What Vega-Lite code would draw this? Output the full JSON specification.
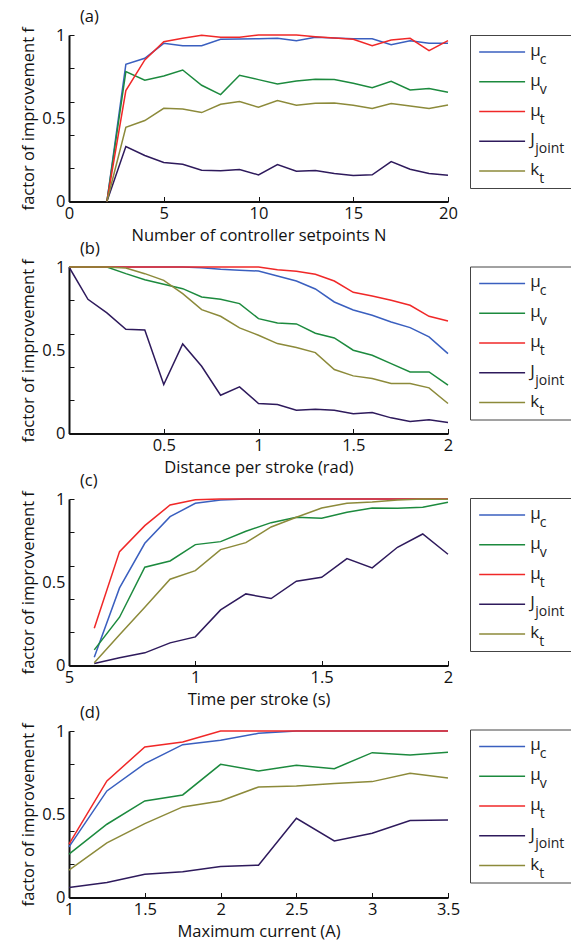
{
"$schema":"https://vega.github.io/schema/vega-lite/v6.json",
"background":"white",
"padding":{"left":20,"top":9,"right":0,"bottom":0},
"config":{"view":{"stroke":null},"font":"Open Sans",
"axis":{"grid":false,"domainColor":"#111","domainWidth":2,"tickColor":"#111","tickSize":-5,"tickWidth":1,"labelFont":"Open Sans","labelFontSize":16.5,"labelColor":"#111","titleFont":"Open Sans","titleFontSize":16.5,"titleFontWeight":"normal","titleColor":"#111","labelPadding":9,"labelFlush":false,"titlePadding":5},
"title":{"font":"Open Sans","fontSize":16.5,"fontWeight":"normal","color":"#111"}},
"datasets":{
"a":[
{"s":"mc","x":2,"f":0},{"s":"mc","x":3,"f":0.824},{"s":"mc","x":4,"f":0.86},{"s":"mc","x":5,"f":0.95},{"s":"mc","x":6,"f":0.936},{"s":"mc","x":7,"f":0.936},{"s":"mc","x":8,"f":0.974},{"s":"mc","x":9,"f":0.976},{"s":"mc","x":10,"f":0.978},{"s":"mc","x":11,"f":0.98},{"s":"mc","x":12,"f":0.966},{"s":"mc","x":13,"f":0.986},{"s":"mc","x":14,"f":0.982},{"s":"mc","x":15,"f":0.978},{"s":"mc","x":16,"f":0.978},{"s":"mc","x":17,"f":0.942},{"s":"mc","x":18,"f":0.966},{"s":"mc","x":19,"f":0.95},{"s":"mc","x":20,"f":0.95},
{"s":"mv","x":2,"f":0},{"s":"mv","x":3,"f":0.78},{"s":"mv","x":4,"f":0.728},{"s":"mv","x":5,"f":0.754},{"s":"mv","x":6,"f":0.79},{"s":"mv","x":7,"f":0.698},{"s":"mv","x":8,"f":0.642},{"s":"mv","x":9,"f":0.758},{"s":"mv","x":10,"f":0.732},{"s":"mv","x":11,"f":0.706},{"s":"mv","x":12,"f":0.724},{"s":"mv","x":13,"f":0.734},{"s":"mv","x":14,"f":0.732},{"s":"mv","x":15,"f":0.71},{"s":"mv","x":16,"f":0.684},{"s":"mv","x":17,"f":0.722},{"s":"mv","x":18,"f":0.67},{"s":"mv","x":19,"f":0.678},{"s":"mv","x":20,"f":0.656},
{"s":"mt","x":2,"f":0},{"s":"mt","x":3,"f":0.666},{"s":"mt","x":4,"f":0.85},{"s":"mt","x":5,"f":0.96},{"s":"mt","x":6,"f":0.98},{"s":"mt","x":7,"f":0.998},{"s":"mt","x":8,"f":0.986},{"s":"mt","x":9,"f":0.986},{"s":"mt","x":10,"f":1.0},{"s":"mt","x":11,"f":1.0},{"s":"mt","x":12,"f":1.0},{"s":"mt","x":13,"f":0.99},{"s":"mt","x":14,"f":0.982},{"s":"mt","x":15,"f":0.974},{"s":"mt","x":16,"f":0.936},{"s":"mt","x":17,"f":0.97},{"s":"mt","x":18,"f":0.98},{"s":"mt","x":19,"f":0.906},{"s":"mt","x":20,"f":0.966},
{"s":"J","x":2,"f":0},{"s":"J","x":3,"f":0.33},{"s":"J","x":4,"f":0.276},{"s":"J","x":5,"f":0.234},{"s":"J","x":6,"f":0.224},{"s":"J","x":7,"f":0.188},{"s":"J","x":8,"f":0.184},{"s":"J","x":9,"f":0.192},{"s":"J","x":10,"f":0.16},{"s":"J","x":11,"f":0.222},{"s":"J","x":12,"f":0.182},{"s":"J","x":13,"f":0.186},{"s":"J","x":14,"f":0.168},{"s":"J","x":15,"f":0.156},{"s":"J","x":16,"f":0.16},{"s":"J","x":17,"f":0.24},{"s":"J","x":18,"f":0.194},{"s":"J","x":19,"f":0.168},{"s":"J","x":20,"f":0.158},
{"s":"k","x":2,"f":0},{"s":"k","x":3,"f":0.446},{"s":"k","x":4,"f":0.486},{"s":"k","x":5,"f":0.56},{"s":"k","x":6,"f":0.556},{"s":"k","x":7,"f":0.534},{"s":"k","x":8,"f":0.584},{"s":"k","x":9,"f":0.6},{"s":"k","x":10,"f":0.566},{"s":"k","x":11,"f":0.606},{"s":"k","x":12,"f":0.578},{"s":"k","x":13,"f":0.59},{"s":"k","x":14,"f":0.592},{"s":"k","x":15,"f":0.578},{"s":"k","x":16,"f":0.558},{"s":"k","x":17,"f":0.588},{"s":"k","x":18,"f":0.574},{"s":"k","x":19,"f":0.558},{"s":"k","x":20,"f":0.58}
],
"b":[
{"s":"mc","x":0,"f":1},{"s":"mc","x":0.1,"f":1},{"s":"mc","x":0.2,"f":1},{"s":"mc","x":0.3,"f":1},{"s":"mc","x":0.4,"f":1},{"s":"mc","x":0.5,"f":1},{"s":"mc","x":0.6,"f":1},{"s":"mc","x":0.7,"f":0.996},{"s":"mc","x":0.8,"f":0.986},{"s":"mc","x":0.9,"f":0.98},{"s":"mc","x":1.0,"f":0.976},{"s":"mc","x":1.1,"f":0.946},{"s":"mc","x":1.2,"f":0.916},{"s":"mc","x":1.3,"f":0.868},{"s":"mc","x":1.4,"f":0.79},{"s":"mc","x":1.5,"f":0.742},{"s":"mc","x":1.6,"f":0.71},{"s":"mc","x":1.7,"f":0.67},{"s":"mc","x":1.8,"f":0.636},{"s":"mc","x":1.9,"f":0.58},{"s":"mc","x":2.0,"f":0.48},
{"s":"mv","x":0,"f":1},{"s":"mv","x":0.1,"f":1},{"s":"mv","x":0.2,"f":1},{"s":"mv","x":0.3,"f":0.96},{"s":"mv","x":0.4,"f":0.924},{"s":"mv","x":0.5,"f":0.896},{"s":"mv","x":0.6,"f":0.87},{"s":"mv","x":0.7,"f":0.82},{"s":"mv","x":0.8,"f":0.806},{"s":"mv","x":0.9,"f":0.78},{"s":"mv","x":1.0,"f":0.69},{"s":"mv","x":1.1,"f":0.664},{"s":"mv","x":1.2,"f":0.658},{"s":"mv","x":1.3,"f":0.602},{"s":"mv","x":1.4,"f":0.574},{"s":"mv","x":1.5,"f":0.5},{"s":"mv","x":1.6,"f":0.47},{"s":"mv","x":1.7,"f":0.42},{"s":"mv","x":1.8,"f":0.37},{"s":"mv","x":1.9,"f":0.37},{"s":"mv","x":2.0,"f":0.29},
{"s":"mt","x":0,"f":1},{"s":"mt","x":0.1,"f":1},{"s":"mt","x":0.2,"f":1},{"s":"mt","x":0.3,"f":1},{"s":"mt","x":0.4,"f":1},{"s":"mt","x":0.5,"f":1},{"s":"mt","x":0.6,"f":1},{"s":"mt","x":0.7,"f":1},{"s":"mt","x":0.8,"f":1},{"s":"mt","x":0.9,"f":1},{"s":"mt","x":1.0,"f":1},{"s":"mt","x":1.1,"f":0.984},{"s":"mt","x":1.2,"f":0.974},{"s":"mt","x":1.3,"f":0.956},{"s":"mt","x":1.4,"f":0.916},{"s":"mt","x":1.5,"f":0.848},{"s":"mt","x":1.6,"f":0.826},{"s":"mt","x":1.7,"f":0.8},{"s":"mt","x":1.8,"f":0.77},{"s":"mt","x":1.9,"f":0.704},{"s":"mt","x":2.0,"f":0.676},
{"s":"J","x":0,"f":1},{"s":"J","x":0.1,"f":0.806},{"s":"J","x":0.2,"f":0.724},{"s":"J","x":0.3,"f":0.626},{"s":"J","x":0.4,"f":0.622},{"s":"J","x":0.5,"f":0.294},{"s":"J","x":0.6,"f":0.538},{"s":"J","x":0.7,"f":0.404},{"s":"J","x":0.8,"f":0.23},{"s":"J","x":0.9,"f":0.28},{"s":"J","x":1.0,"f":0.18},{"s":"J","x":1.1,"f":0.174},{"s":"J","x":1.2,"f":0.14},{"s":"J","x":1.3,"f":0.146},{"s":"J","x":1.4,"f":0.14},{"s":"J","x":1.5,"f":0.118},{"s":"J","x":1.6,"f":0.126},{"s":"J","x":1.7,"f":0.094},{"s":"J","x":1.8,"f":0.072},{"s":"J","x":1.9,"f":0.082},{"s":"J","x":2.0,"f":0.066},
{"s":"k","x":0,"f":1},{"s":"k","x":0.1,"f":1},{"s":"k","x":0.2,"f":1},{"s":"k","x":0.3,"f":0.994},{"s":"k","x":0.4,"f":0.96},{"s":"k","x":0.5,"f":0.92},{"s":"k","x":0.6,"f":0.84},{"s":"k","x":0.7,"f":0.744},{"s":"k","x":0.8,"f":0.704},{"s":"k","x":0.9,"f":0.634},{"s":"k","x":1.0,"f":0.59},{"s":"k","x":1.1,"f":0.54},{"s":"k","x":1.2,"f":0.516},{"s":"k","x":1.3,"f":0.486},{"s":"k","x":1.4,"f":0.384},{"s":"k","x":1.5,"f":0.346},{"s":"k","x":1.6,"f":0.33},{"s":"k","x":1.7,"f":0.3},{"s":"k","x":1.8,"f":0.3},{"s":"k","x":1.9,"f":0.274},{"s":"k","x":2.0,"f":0.18}
],
"c":[
{"s":"mc","x":0.6,"f":0.05},{"s":"mc","x":0.7,"f":0.466},{"s":"mc","x":0.8,"f":0.734},{"s":"mc","x":0.9,"f":0.894},{"s":"mc","x":1.0,"f":0.974},{"s":"mc","x":1.1,"f":0.994},{"s":"mc","x":1.2,"f":1},{"s":"mc","x":1.3,"f":1},{"s":"mc","x":1.4,"f":1},{"s":"mc","x":1.5,"f":1},{"s":"mc","x":1.6,"f":1},{"s":"mc","x":1.7,"f":1},{"s":"mc","x":1.8,"f":1},{"s":"mc","x":1.9,"f":1},{"s":"mc","x":2.0,"f":1},
{"s":"mv","x":0.6,"f":0.094},{"s":"mv","x":0.7,"f":0.29},{"s":"mv","x":0.8,"f":0.59},{"s":"mv","x":0.9,"f":0.628},{"s":"mv","x":1.0,"f":0.726},{"s":"mv","x":1.1,"f":0.744},{"s":"mv","x":1.2,"f":0.806},{"s":"mv","x":1.3,"f":0.858},{"s":"mv","x":1.4,"f":0.89},{"s":"mv","x":1.5,"f":0.884},{"s":"mv","x":1.6,"f":0.92},{"s":"mv","x":1.7,"f":0.946},{"s":"mv","x":1.8,"f":0.944},{"s":"mv","x":1.9,"f":0.95},{"s":"mv","x":2.0,"f":0.98},
{"s":"mt","x":0.6,"f":0.224},{"s":"mt","x":0.7,"f":0.684},{"s":"mt","x":0.8,"f":0.84},{"s":"mt","x":0.9,"f":0.964},{"s":"mt","x":1.0,"f":0.996},{"s":"mt","x":1.1,"f":1},{"s":"mt","x":1.2,"f":1},{"s":"mt","x":1.3,"f":1},{"s":"mt","x":1.4,"f":1},{"s":"mt","x":1.5,"f":1},{"s":"mt","x":1.6,"f":1},{"s":"mt","x":1.7,"f":1},{"s":"mt","x":1.8,"f":1},{"s":"mt","x":1.9,"f":1},{"s":"mt","x":2.0,"f":1},
{"s":"J","x":0.6,"f":0.012},{"s":"J","x":0.7,"f":0.046},{"s":"J","x":0.8,"f":0.076},{"s":"J","x":0.9,"f":0.136},{"s":"J","x":1.0,"f":0.172},{"s":"J","x":1.1,"f":0.334},{"s":"J","x":1.2,"f":0.43},{"s":"J","x":1.3,"f":0.402},{"s":"J","x":1.4,"f":0.506},{"s":"J","x":1.5,"f":0.53},{"s":"J","x":1.6,"f":0.642},{"s":"J","x":1.7,"f":0.586},{"s":"J","x":1.8,"f":0.71},{"s":"J","x":1.9,"f":0.79},{"s":"J","x":2.0,"f":0.668},
{"s":"k","x":0.6,"f":0.016},{"s":"k","x":0.7,"f":0.184},{"s":"k","x":0.8,"f":0.35},{"s":"k","x":0.9,"f":0.518},{"s":"k","x":1.0,"f":0.57},{"s":"k","x":1.1,"f":0.696},{"s":"k","x":1.2,"f":0.738},{"s":"k","x":1.3,"f":0.832},{"s":"k","x":1.4,"f":0.89},{"s":"k","x":1.5,"f":0.946},{"s":"k","x":1.6,"f":0.974},{"s":"k","x":1.7,"f":0.982},{"s":"k","x":1.8,"f":0.994},{"s":"k","x":1.9,"f":1},{"s":"k","x":2.0,"f":0.998}
],
"d":[
{"s":"mc","x":1,"f":0.304},{"s":"mc","x":1.25,"f":0.64},{"s":"mc","x":1.5,"f":0.804},{"s":"mc","x":1.75,"f":0.918},{"s":"mc","x":2,"f":0.944},{"s":"mc","x":2.25,"f":0.986},{"s":"mc","x":2.5,"f":1},{"s":"mc","x":2.75,"f":1},{"s":"mc","x":3,"f":1},{"s":"mc","x":3.25,"f":1},{"s":"mc","x":3.5,"f":1},
{"s":"mv","x":1,"f":0.26},{"s":"mv","x":1.25,"f":0.44},{"s":"mv","x":1.5,"f":0.58},{"s":"mv","x":1.75,"f":0.616},{"s":"mv","x":2,"f":0.8},{"s":"mv","x":2.25,"f":0.76},{"s":"mv","x":2.5,"f":0.794},{"s":"mv","x":2.75,"f":0.774},{"s":"mv","x":3,"f":0.87},{"s":"mv","x":3.25,"f":0.856},{"s":"mv","x":3.5,"f":0.872},
{"s":"mt","x":1,"f":0.32},{"s":"mt","x":1.25,"f":0.7},{"s":"mt","x":1.5,"f":0.904},{"s":"mt","x":1.75,"f":0.934},{"s":"mt","x":2,"f":1},{"s":"mt","x":2.25,"f":1},{"s":"mt","x":2.5,"f":1},{"s":"mt","x":2.75,"f":1},{"s":"mt","x":3,"f":1},{"s":"mt","x":3.25,"f":1},{"s":"mt","x":3.5,"f":1},
{"s":"J","x":1,"f":0.06},{"s":"J","x":1.25,"f":0.09},{"s":"J","x":1.5,"f":0.14},{"s":"J","x":1.75,"f":0.154},{"s":"J","x":2,"f":0.186},{"s":"J","x":2.25,"f":0.194},{"s":"J","x":2.5,"f":0.476},{"s":"J","x":2.75,"f":0.34},{"s":"J","x":3,"f":0.386},{"s":"J","x":3.25,"f":0.462},{"s":"J","x":3.5,"f":0.466},
{"s":"k","x":1,"f":0.164},{"s":"k","x":1.25,"f":0.328},{"s":"k","x":1.5,"f":0.444},{"s":"k","x":1.75,"f":0.544},{"s":"k","x":2,"f":0.58},{"s":"k","x":2.25,"f":0.664},{"s":"k","x":2.5,"f":0.67},{"s":"k","x":2.75,"f":0.684},{"s":"k","x":3,"f":0.696},{"s":"k","x":3.25,"f":0.746},{"s":"k","x":3.5,"f":0.718}
],
"leg":[
{"s":"mc","main":"μ","sub":"c"},{"s":"mv","main":"μ","sub":"v"},{"s":"mt","main":"μ","sub":"t"},{"s":"J","main":"J","sub":"joint"},{"s":"k","main":"k","sub":"t"}
]},
"hconcat":[
{"vconcat":[
{"width":379,"height":166.5,"data":{"name":"a"},
"title":{"text":"(a)","anchor":"start","frame":"group","dx":11,"offset":1},
"mark":{"type":"line","strokeWidth":1.5},
"encoding":{
"x":{"field":"x","type":"quantitative","scale":{"domain":[0,20],"nice":false,"zero":false},"axis":{"values":[0,5,10,15,20],"title":"Number of controller setpoints N","labelExpr":"format(datum.value,'~g')"}},
"y":{"field":"f","type":"quantitative","scale":{"domain":[0,1],"nice":false},"axis":{"values":[0,0.2,0.4,0.5,0.6,0.8,1],"labelExpr":"(datum.value==0||datum.value==0.5||datum.value==1) ? format(datum.value,'~g') : ''","tickOpacity":{"condition":{"test":"datum.value==0.5","value":0},"value":1},"title":"factor of improvement f"}},
"color":{"field":"s","type":"nominal","scale":{"domain":["mc","mv","mt","J","k"],"range":["#3a5fbf","#1c8a3e","#f02828","#2e1a5c","#8c8a3a"]},"legend":null}}},
{"width":379,"height":166.5,"data":{"name":"b"},
"title":{"text":"(b)","anchor":"start","frame":"group","dx":11,"offset":1},
"mark":{"type":"line","strokeWidth":1.5},
"encoding":{
"x":{"field":"x","type":"quantitative","scale":{"domain":[0,2],"nice":false,"zero":false},"axis":{"values":[0.5,1,1.5,2],"title":"Distance per stroke (rad)","labelExpr":"format(datum.value,'~g')"}},
"y":{"field":"f","type":"quantitative","scale":{"domain":[0,1],"nice":false},"axis":{"values":[0,0.2,0.4,0.5,0.6,0.8,1],"labelExpr":"(datum.value==0||datum.value==0.5||datum.value==1) ? format(datum.value,'~g') : ''","tickOpacity":{"condition":{"test":"datum.value==0.5","value":0},"value":1},"title":"factor of improvement f"}},
"color":{"field":"s","type":"nominal","scale":{"domain":["mc","mv","mt","J","k"],"range":["#3a5fbf","#1c8a3e","#f02828","#2e1a5c","#8c8a3a"]},"legend":null}}},
{"width":379,"height":166.5,"data":{"name":"c"},
"title":{"text":"(c)","anchor":"start","frame":"group","dx":11,"offset":1},
"mark":{"type":"line","strokeWidth":1.5},
"encoding":{
"x":{"field":"x","type":"quantitative","scale":{"domain":[0.5,2],"nice":false,"zero":false},"axis":{"values":[0.5,1,1.5,2],"title":"Time per stroke (s)","labelExpr":"datum.value==0.5 ? '5' : format(datum.value,'~g')"}},
"y":{"field":"f","type":"quantitative","scale":{"domain":[0,1],"nice":false},"axis":{"values":[0,0.2,0.4,0.5,0.6,0.8,1],"labelExpr":"(datum.value==0||datum.value==0.5||datum.value==1) ? format(datum.value,'~g') : ''","tickOpacity":{"condition":{"test":"datum.value==0.5","value":0},"value":1},"title":"factor of improvement f"}},
"color":{"field":"s","type":"nominal","scale":{"domain":["mc","mv","mt","J","k"],"range":["#3a5fbf","#1c8a3e","#f02828","#2e1a5c","#8c8a3a"]},"legend":null}}},
{"width":379,"height":166.5,"data":{"name":"d"},
"title":{"text":"(d)","anchor":"start","frame":"group","dx":11,"offset":1},
"mark":{"type":"line","strokeWidth":1.5},
"encoding":{
"x":{"field":"x","type":"quantitative","scale":{"domain":[1,3.5],"nice":false,"zero":false},"axis":{"values":[1,1.5,2,2.5,3,3.5],"title":"Maximum current (A)","labelExpr":"format(datum.value,'~g')"}},
"y":{"field":"f","type":"quantitative","scale":{"domain":[0,1],"nice":false},"axis":{"values":[0,0.2,0.4,0.5,0.6,0.8,1],"labelExpr":"(datum.value==0||datum.value==0.5||datum.value==1) ? format(datum.value,'~g') : ''","tickOpacity":{"condition":{"test":"datum.value==0.5","value":0},"value":1},"title":"factor of improvement f"}},
"color":{"field":"s","type":"nominal","scale":{"domain":["mc","mv","mt","J","k"],"range":["#3a5fbf","#1c8a3e","#f02828","#2e1a5c","#8c8a3a"]},"legend":null}}}
],"spacing":65,"bounds":"flush"},
{"vconcat":[
{"width":102,"height":153,"view":{"stroke":"#444","strokeWidth":1,"fill":"white"},"data":{"name":"leg"},
"encoding":{"y":{"field":"s","type":"nominal","scale":{"type":"point","domain":["mc","mv","mt","J","k"],"padding":0.57},"axis":null}},
"layer":[
{"mark":{"type":"rule","strokeWidth":1.5},"encoding":{"x":{"datum":0.09,"type":"quantitative","scale":{"domain":[0,1]},"axis":null},"x2":{"datum":0.54},"color":{"field":"s","type":"nominal","scale":{"domain":["mc","mv","mt","J","k"],"range":["#3a5fbf","#1c8a3e","#f02828","#2e1a5c","#8c8a3a"]},"legend":null}}},
{"mark":{"type":"text","align":"left","baseline":"alphabetic","dy":4,"fontSize":17,"color":"#222"},"encoding":{"x":{"datum":0.59,"type":"quantitative"},"text":{"field":"main"}}},
{"transform":[{"filter":"datum.main=='μ'"}],"mark":{"type":"text","align":"left","baseline":"alphabetic","dx":9.5,"dy":12,"fontSize":14,"color":"#222"},"encoding":{"x":{"datum":0.59,"type":"quantitative"},"text":{"field":"sub"}}},
{"transform":[{"filter":"datum.main=='J'"}],"mark":{"type":"text","align":"left","baseline":"alphabetic","dx":5,"dy":12,"fontSize":14,"color":"#222"},"encoding":{"x":{"datum":0.59,"type":"quantitative"},"text":{"field":"sub"}}},
{"transform":[{"filter":"datum.main=='k'"}],"mark":{"type":"text","align":"left","baseline":"alphabetic","dx":9,"dy":12,"fontSize":14,"color":"#222"},"encoding":{"x":{"datum":0.59,"type":"quantitative"},"text":{"field":"sub"}}}
]},
{"width":102,"height":153,"view":{"stroke":"#444","strokeWidth":1,"fill":"white"},"data":{"name":"leg"},
"encoding":{"y":{"field":"s","type":"nominal","scale":{"type":"point","domain":["mc","mv","mt","J","k"],"padding":0.57},"axis":null}},
"layer":[
{"mark":{"type":"rule","strokeWidth":1.5},"encoding":{"x":{"datum":0.09,"type":"quantitative","scale":{"domain":[0,1]},"axis":null},"x2":{"datum":0.54},"color":{"field":"s","type":"nominal","scale":{"domain":["mc","mv","mt","J","k"],"range":["#3a5fbf","#1c8a3e","#f02828","#2e1a5c","#8c8a3a"]},"legend":null}}},
{"mark":{"type":"text","align":"left","baseline":"alphabetic","dy":4,"fontSize":17,"color":"#222"},"encoding":{"x":{"datum":0.59,"type":"quantitative"},"text":{"field":"main"}}},
{"transform":[{"filter":"datum.main=='μ'"}],"mark":{"type":"text","align":"left","baseline":"alphabetic","dx":9.5,"dy":12,"fontSize":14,"color":"#222"},"encoding":{"x":{"datum":0.59,"type":"quantitative"},"text":{"field":"sub"}}},
{"transform":[{"filter":"datum.main=='J'"}],"mark":{"type":"text","align":"left","baseline":"alphabetic","dx":5,"dy":12,"fontSize":14,"color":"#222"},"encoding":{"x":{"datum":0.59,"type":"quantitative"},"text":{"field":"sub"}}},
{"transform":[{"filter":"datum.main=='k'"}],"mark":{"type":"text","align":"left","baseline":"alphabetic","dx":9,"dy":12,"fontSize":14,"color":"#222"},"encoding":{"x":{"datum":0.59,"type":"quantitative"},"text":{"field":"sub"}}}
]},
{"width":102,"height":153,"view":{"stroke":"#444","strokeWidth":1,"fill":"white"},"data":{"name":"leg"},
"encoding":{"y":{"field":"s","type":"nominal","scale":{"type":"point","domain":["mc","mv","mt","J","k"],"padding":0.57},"axis":null}},
"layer":[
{"mark":{"type":"rule","strokeWidth":1.5},"encoding":{"x":{"datum":0.09,"type":"quantitative","scale":{"domain":[0,1]},"axis":null},"x2":{"datum":0.54},"color":{"field":"s","type":"nominal","scale":{"domain":["mc","mv","mt","J","k"],"range":["#3a5fbf","#1c8a3e","#f02828","#2e1a5c","#8c8a3a"]},"legend":null}}},
{"mark":{"type":"text","align":"left","baseline":"alphabetic","dy":4,"fontSize":17,"color":"#222"},"encoding":{"x":{"datum":0.59,"type":"quantitative"},"text":{"field":"main"}}},
{"transform":[{"filter":"datum.main=='μ'"}],"mark":{"type":"text","align":"left","baseline":"alphabetic","dx":9.5,"dy":12,"fontSize":14,"color":"#222"},"encoding":{"x":{"datum":0.59,"type":"quantitative"},"text":{"field":"sub"}}},
{"transform":[{"filter":"datum.main=='J'"}],"mark":{"type":"text","align":"left","baseline":"alphabetic","dx":5,"dy":12,"fontSize":14,"color":"#222"},"encoding":{"x":{"datum":0.59,"type":"quantitative"},"text":{"field":"sub"}}},
{"transform":[{"filter":"datum.main=='k'"}],"mark":{"type":"text","align":"left","baseline":"alphabetic","dx":9,"dy":12,"fontSize":14,"color":"#222"},"encoding":{"x":{"datum":0.59,"type":"quantitative"},"text":{"field":"sub"}}}
]},
{"width":102,"height":153,"view":{"stroke":"#444","strokeWidth":1,"fill":"white"},"data":{"name":"leg"},
"encoding":{"y":{"field":"s","type":"nominal","scale":{"type":"point","domain":["mc","mv","mt","J","k"],"padding":0.57},"axis":null}},
"layer":[
{"mark":{"type":"rule","strokeWidth":1.5},"encoding":{"x":{"datum":0.09,"type":"quantitative","scale":{"domain":[0,1]},"axis":null},"x2":{"datum":0.54},"color":{"field":"s","type":"nominal","scale":{"domain":["mc","mv","mt","J","k"],"range":["#3a5fbf","#1c8a3e","#f02828","#2e1a5c","#8c8a3a"]},"legend":null}}},
{"mark":{"type":"text","align":"left","baseline":"alphabetic","dy":4,"fontSize":17,"color":"#222"},"encoding":{"x":{"datum":0.59,"type":"quantitative"},"text":{"field":"main"}}},
{"transform":[{"filter":"datum.main=='μ'"}],"mark":{"type":"text","align":"left","baseline":"alphabetic","dx":9.5,"dy":12,"fontSize":14,"color":"#222"},"encoding":{"x":{"datum":0.59,"type":"quantitative"},"text":{"field":"sub"}}},
{"transform":[{"filter":"datum.main=='J'"}],"mark":{"type":"text","align":"left","baseline":"alphabetic","dx":5,"dy":12,"fontSize":14,"color":"#222"},"encoding":{"x":{"datum":0.59,"type":"quantitative"},"text":{"field":"sub"}}},
{"transform":[{"filter":"datum.main=='k'"}],"mark":{"type":"text","align":"left","baseline":"alphabetic","dx":9,"dy":12,"fontSize":14,"color":"#222"},"encoding":{"x":{"datum":0.59,"type":"quantitative"},"text":{"field":"sub"}}}
]}
],"spacing":78.5,"bounds":"flush"}
],
"spacing":9
}
